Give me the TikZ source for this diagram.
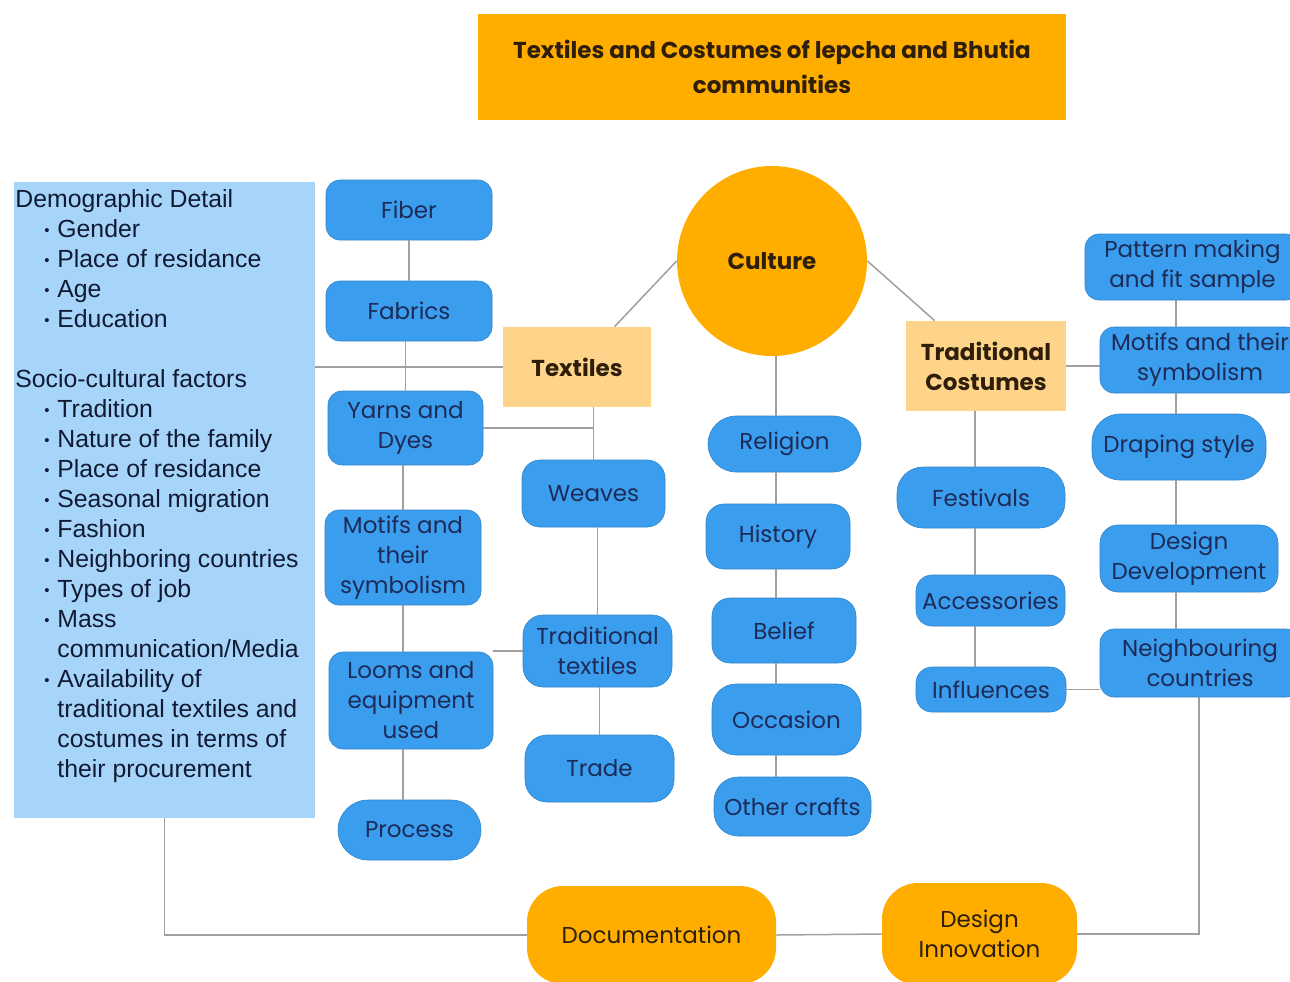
\documentclass[tikz,border=0pt]{standalone}
\usepackage{fontspec}
\setmainfont{Poppins}
\newfontfamily\arialf{Liberation Sans}
\usetikzlibrary{calc}
\definecolor{boxblue}{HTML}{3B9DEE}
\definecolor{navy}{HTML}{1C2B57}
\definecolor{orng}{HTML}{FFAE00}
\definecolor{lorng}{HTML}{FDD48A}
\definecolor{panelblue}{HTML}{A7D5FA}
\definecolor{linegray}{HTML}{A0A0A0}
\definecolor{darkbr}{HTML}{2E1E0A}
\newcommand\itm[1]{\hspace*{14.5pt}\makebox[6.5pt][l]{\raisebox{1pt}{\scalebox{0.6}{•}}}#1}
\newcommand\cnt[1]{\hspace*{21pt}#1}
\tikzset{
  ln/.style={draw=linegray, line width=0.75pt},
  bx/.style={fill=boxblue, draw=boxblue!85!black, line width=0.3pt, text=navy,
    font=\fontsize{11.5}{15}\selectfont, align=center, inner sep=0pt, rounded corners=7pt},
  tanbox/.style={fill=lorng, text=darkbr, font=\fontsize{11.5}{15}\selectfont\bfseries,
    align=center, inner sep=0pt},
  orgbox/.style={fill=orng, text=darkbr, font=\fontsize{11.5}{15}\selectfont,
    align=center, inner sep=0pt, rounded corners=18pt}
}
\begin{document}
\begin{tikzpicture}[x=0.5pt,y=-0.5pt]
\useasboundingbox (0,0) rectangle (1290,981);
\clip (0,0) rectangle (1290,981);
\fill[white] (0,0) rectangle (1290,981);

% title
\node[fill=orng, text=darkbr, font=\fontsize{11.5}{17.5}\selectfont\bfseries, align=center,
  inner sep=0pt, minimum width=294pt, minimum height=53pt] (title) at (772,67)
  {Textiles and Costumes of lepcha and Bhutia\\communities};

% left panel
\node[fill=panelblue, inner sep=0pt, minimum width=150.5pt, minimum height=318pt] (panel) at (164.5,500) {};
\node[anchor=north west, inner sep=0pt, align=left, text=navy!60!black,
  font=\arialf\fontsize{12.4}{15}\selectfont] (paneltext) at (15,189)
{Demographic Detail\\
\itm{Gender}\\
\itm{Place of residance}\\
\itm{Age}\\
\itm{Education}\\[15pt]
Socio-cultural factors\\
\itm{Tradition}\\
\itm{Nature of the family}\\
\itm{Place of residance}\\
\itm{Seasonal migration}\\
\itm{Fashion}\\
\itm{Neighboring countries}\\
\itm{Types of job}\\
\itm{Mass}\\
\cnt{communication/Media}\\
\itm{Availability of}\\
\cnt{traditional textiles and}\\
\cnt{costumes in terms of}\\
\cnt{their procurement}};

% left column
\node[bx, minimum width=83pt, minimum height=30pt] (fiber) at (409,210) {Fiber};
\node[bx, minimum width=83pt, minimum height=30pt] (fabrics) at (409,311) {Fabrics};
\node[bx, minimum width=77.5pt, minimum height=37pt] (yarns) at (405.5,428) {Yarns and\\Dyes};
\node[bx, minimum width=78pt, minimum height=47.5pt] (motifs) at (403,557.5) {Motifs and\\their\\symbolism};
\node[bx, minimum width=82pt, minimum height=48.5pt] (looms) at (411,700.5) {Looms and\\equipment\\used};
\node[bx, minimum width=71.5pt, minimum height=30pt, rounded corners=15pt] (process) at (409.5,830) {Process};

% textiles branch
\node[tanbox, minimum width=74pt, minimum height=40pt] (textiles) at (577,367) {Textiles};
\node[bx, minimum width=71.5pt, minimum height=33.5pt, rounded corners=9pt] (weaves) at (593.5,493.5) {Weaves};
\node[bx, minimum width=74.5pt, minimum height=36pt, rounded corners=10pt] (tradtex) at (597.5,651) {Traditional\\textiles};
\node[bx, minimum width=74.5pt, minimum height=33.5pt, rounded corners=11pt] (trade) at (599.5,768.5) {Trade};

% culture
\node[circle, fill=orng, text=darkbr, font=\fontsize{11.5}{15}\selectfont\bfseries,
  minimum size=95pt, inner sep=0pt] (culture) at (772,261) {Culture};
\node[bx, minimum width=76.5pt, minimum height=28pt, rounded corners=14pt] (religion) at (784.5,444) {Religion};
\node[bx, minimum width=72pt, minimum height=32.5pt, rounded corners=9pt] (history) at (778,536.5) {History};
\node[bx, minimum width=72pt, minimum height=32.5pt, rounded corners=9pt] (belief) at (784,630.5) {Belief};
\node[bx, minimum width=74.5pt, minimum height=35.5pt, rounded corners=12pt] (occasion) at (786.5,719.5) {Occasion};
\node[bx, minimum width=78.5pt, minimum height=29.5pt, rounded corners=12pt] (crafts) at (792.5,806.5) {Other crafts};

% traditional costumes
\node[tanbox, minimum width=80pt, minimum height=45pt] (tc) at (986,366) {Traditional\\Costumes};
\node[bx, minimum width=84pt, minimum height=30.5pt, rounded corners=13pt] (festivals) at (981,497.5) {Festivals};
\node[bx, minimum width=74.5pt, minimum height=25.5pt, rounded corners=8pt] (accessories) at (990.5,600.5) {Accessories};
\node[bx, minimum width=75pt, minimum height=22.5pt, rounded corners=8pt] (influences) at (991,689.5) {Influences};

% right column
\node[bx, minimum width=107.5pt, minimum height=33pt] (pattern) at (1192.5,267) {Pattern making\\and fit sample};
\node[bx, minimum width=100pt, minimum height=33pt] (motifs2) at (1200,360) {Motifs and their\\symbolism};
\node[bx, minimum width=87pt, minimum height=33pt, rounded corners=14pt] (draping) at (1179,447) {Draping style};
\node[bx, minimum width=89pt, minimum height=33.5pt, rounded corners=9pt] (designdev) at (1189,558.5) {Design\\Development};
\node[bx, minimum width=100pt, minimum height=34pt] (ncount) at (1200,663) {Neighbouring\\countries};

% bottom
\node[orgbox, minimum width=124.5pt, minimum height=49pt] (doc) at (651.5,935) {Documentation};
\node[orgbox, minimum width=97.5pt, minimum height=51pt] (innov) at (979.5,934) {Design\\Innovation};

% helper coordinates
\coordinate (cx) at (776,0);
\coordinate (tcx) at (975,0);
\coordinate (rx) at (1176,0);
\coordinate (nx) at (1199,0);

\begin{scope}[on background layer/.style={}]
% left column connectors
\draw[ln] (fiber) -- (fabrics);
\draw[ln] (yarns.north) -- (yarns.north |- fabrics.south);
\draw[ln] (motifs.north) -- (motifs.north |- yarns.south);
\draw[ln] (motifs.south) -- (motifs.south |- looms.north);
\draw[ln] ($(looms.south)+(-8,0)$) -- ($(process.north)+(-6.5,0)$);
\draw[ln] (panel.east |- textiles) -- (textiles.west);
\draw[ln] (yarns.east) -- (yarns.east -| weaves);
% textiles branch
\draw[ln] (textiles.south -| weaves) -- (weaves.north);
\draw[ln] (weaves.south -| tradtex) -- (tradtex.north);
\draw[ln] (tradtex.south -| trade) -- (trade.north);
\draw[ln] (tradtex.west) -- (tradtex.west -| looms.east);
\draw[ln] ($(textiles.north west)+(112,0)$) -- (culture.west);
% culture
\draw[ln] (culture.east) -- ($(tc.north west)+(29,0)$);
\draw[ln] (culture.south -| cx) -- (religion.north -| cx);
\draw[ln] (religion.south -| cx) -- (history.north -| cx);
\draw[ln] (history.south -| cx) -- (belief.north -| cx);
\draw[ln] (belief.south -| cx) -- (occasion.north -| cx);
\draw[ln] (occasion.south -| cx) -- (crafts.north -| cx);
% costumes
\draw[ln] (tc.east) -- (tc.east -| motifs2.west);
\draw[ln] (tc.south -| tcx) -- (festivals.north -| tcx);
\draw[ln] (festivals.south -| tcx) -- (accessories.north -| tcx);
\draw[ln] (accessories.south -| tcx) -- (influences.north -| tcx);
\draw[ln] (influences.east) -- (influences.east -| ncount.west);
% right column
\draw[ln] (pattern.south -| rx) -- (motifs2.north -| rx);
\draw[ln] (motifs2.south -| rx) -- (draping.north -| rx);
\draw[ln] (draping.south -| rx) -- (designdev.north -| rx);
\draw[ln] (designdev.south -| rx) -- (ncount.north -| rx);
% bottom
\draw[ln] (panel.south) |- (doc.west);
\draw[ln] (doc.east) -- (innov.west);
\draw[ln] (innov.east) -| (ncount.south -| nx);
\end{scope}
\end{tikzpicture}
\end{document}
